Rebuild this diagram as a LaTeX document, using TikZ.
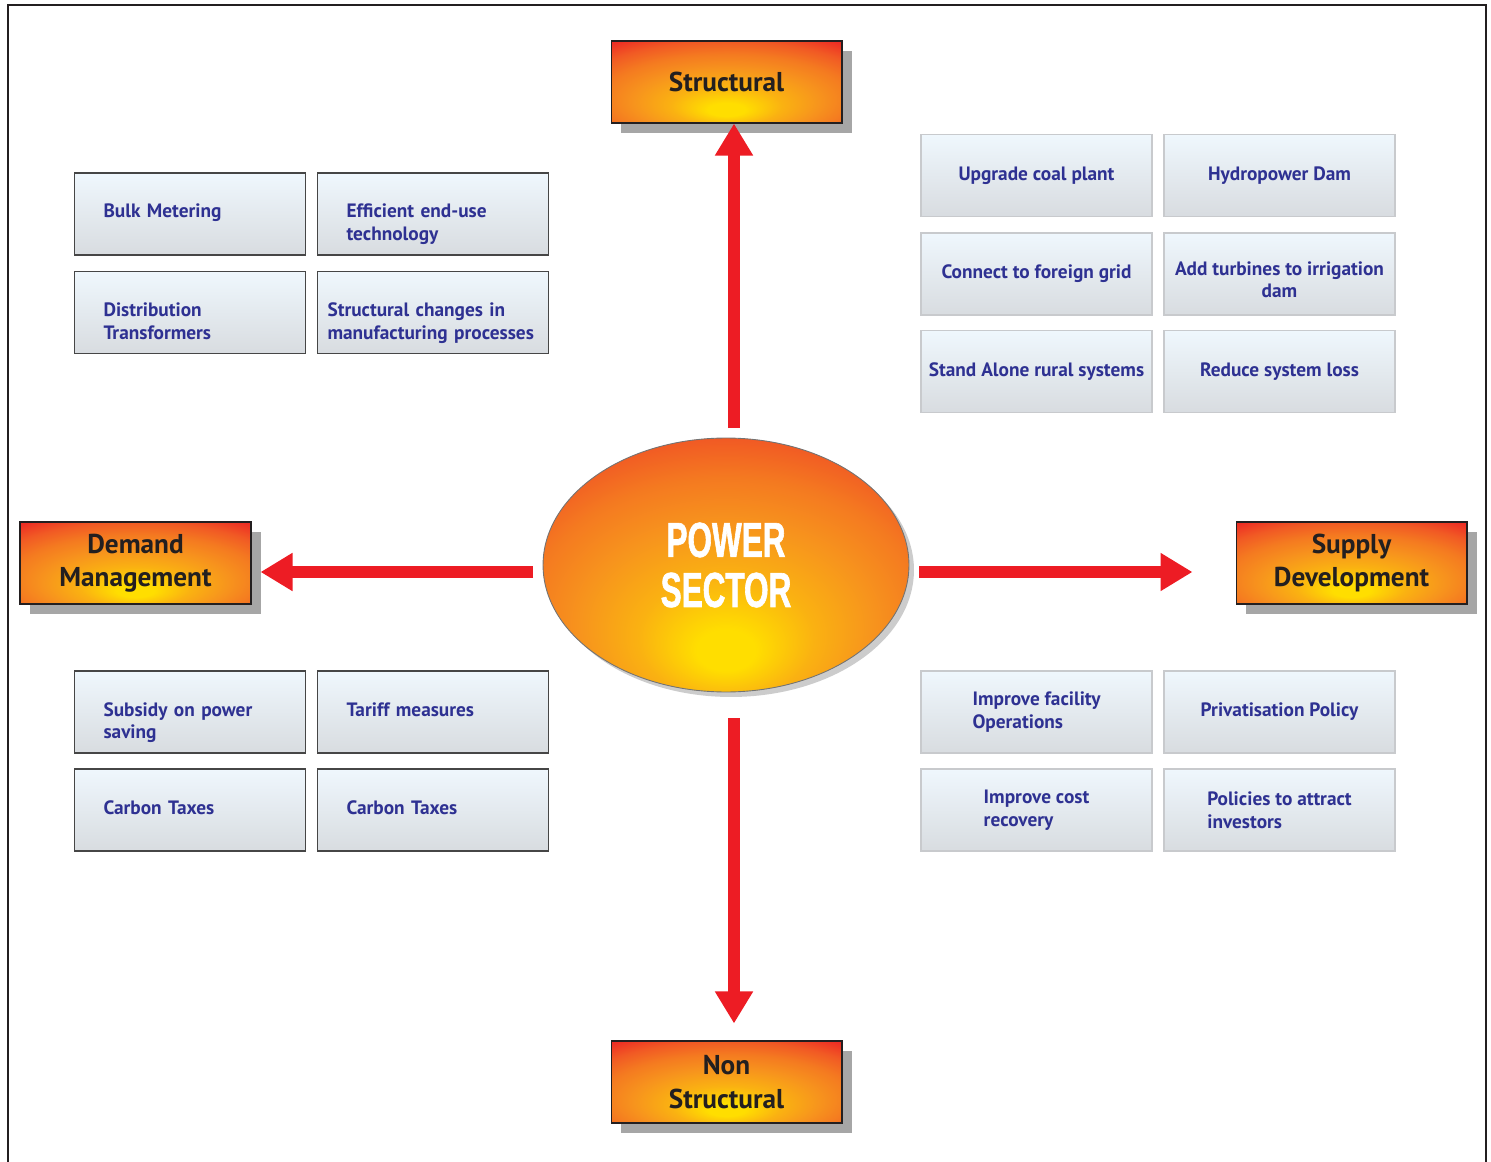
\documentclass[tikz,border=0pt]{standalone}
\usepackage{fontspec}
\setmainfont{PT Sans}
\newfontfamily\hubfont[FakeStretch=0.64,FakeBold=1.2]{Liberation Sans}
\usetikzlibrary{arrows.meta,shapes.geometric,shadows,calc}
\definecolor{ink}{RGB}{35,31,32}
\definecolor{navy}{RGB}{46,49,146}
\definecolor{arrowred}{RGB}{237,28,36}
\definecolor{sunyel}{RGB}{255,222,0}
\definecolor{sunorg}{RGB}{247,148,29}
\definecolor{sunred}{RGB}{241,90,36}
\definecolor{sundeep}{RGB}{237,45,36}
\definecolor{boxtop}{RGB}{239,247,253}
\definecolor{boxbot}{RGB}{216,220,224}
\definecolor{linedark}{RGB}{70,70,70}
\definecolor{linelight}{RGB}{200,202,205}
\pgfdeclareradialshading{sunset}{\pgfpoint{0bp}{-18bp}}{color(0bp)=(sunyel); color(4bp)=(sunyel); color(12bp)=(sunyel!40!sunorg); color(20bp)=(sunorg); color(27bp)=(sunorg!55!sunred); color(33bp)=(sunred); color(39bp)=(sundeep); color(60bp)=(sundeep)}
\tikzset{
  headbox/.style={draw=ink, line width=0.6pt, shading=sunset, minimum width=4.62cm, minimum height=1.64cm, align=center, text=ink,
    font=\fontsize{15.5}{19}\selectfont\bfseries, drop shadow={shadow xshift=0.2cm, shadow yshift=-0.2cm, fill=black, opacity=0.35}},
  hubnode/.style={ellipse, draw=black!55, line width=0.5pt, shading=sunset, minimum width=7.32cm, minimum height=5.08cm, inner sep=0pt,
    align=center, text=white, font=\hubfont\bfseries\fontsize{28}{28.5}\selectfont, drop shadow={shadow xshift=0.1cm, shadow yshift=-0.1cm, opacity=0.4}},
  leftitem/.style={draw=linedark, line width=0.6pt, top color=boxtop, bottom color=boxbot, minimum height=1.64cm, inner xsep=0.58cm,
    text width=3.46cm, text height=0.58cm, text depth=0.42cm, align=left, text=navy, font=\fontsize{11}{13}\selectfont\bfseries},
  rightitem/.style={draw=linelight, line width=1pt, top color=boxtop, bottom color=boxbot, minimum width=4.62cm, minimum height=1.64cm,
    align=left, text=navy, font=\fontsize{11}{13}\selectfont\bfseries},
  bigarrow/.style={draw=arrowred, line width=0.24cm, -{Triangle[length=0.64cm, width=0.72cm]}},
  frame/.style={draw=ink, line width=0.05cm}
}

\begin{document}
\begin{tikzpicture}[x=0.02cm, y=-0.02cm]
\useasboundingbox (0,0) rectangle (1491,1162);
\draw[frame] (8,1162) -- (8,5) -- (1486,5) -- (1486,1162);

\node[hubnode] (hub) at (726,565) {POWER\\SECTOR};
\node[headbox] (str) at (726.5,82) {Structural};
\node[headbox] (dem) at (135.5,563) {Demand\\Management};
\node[headbox] (sup) at (1351.5,563) {Supply\\Development};
\node[headbox] (nstr) at (726.5,1082) {Non\\Structural};

\node[leftitem] (bulk) at (190,214) {Bulk Metering};
\node[leftitem] (effic) at (433,214) {Efficient end-use\\technology};
\node[leftitem] (distr) at (190,312.5) {Distribution\\Transformers};
\node[leftitem, inner xsep=0.2cm, text width=4.22cm] (manuf) at (433,312.5) {Structural changes in\\manufacturing processes};
\node[leftitem] (subsid) at (190,712) {Subsidy on power\\saving};
\node[leftitem] (tariff) at (433,712) {Tariff measures};
\node[leftitem] (carbA) at (190,810) {Carbon Taxes};
\node[leftitem] (carbB) at (433,810) {Carbon Taxes};

\node[rightitem] (coal) at (1036.5,175.5) {Upgrade coal plant};
\node[rightitem] (hydro) at (1279.5,175.5) {Hydropower Dam};
\node[rightitem] (grid) at (1036.5,274) {Connect to foreign grid};
\node[rightitem, align=center, text height=1cm, text depth=0.04cm] (turb) at (1279.5,274) {Add turbines to irrigation\\dam};
\node[rightitem] (rural) at (1036.5,371.5) {Stand Alone rural systems};
\node[rightitem] (loss) at (1279.5,371.5) {Reduce system loss};
\node[rightitem] (facil) at (1036.5,712) {Improve facility\\Operations};
\node[rightitem] (priv) at (1279.5,712) {Privatisation Policy};
\node[rightitem] (cost) at (1036.5,810) {Improve cost\\recovery};
\node[rightitem] (invest) at (1279.5,810) {Policies to attract\\investors};

\coordinate (upA) at (734,428);
\coordinate (dnA) at (734,718);
\coordinate (lfA) at (533,572);
\coordinate (rtA) at (919,572);
\draw[bigarrow] (upA) -- (upA |- str.south);
\draw[bigarrow] (dnA) -- ($(dnA |- nstr.north)+(0,-17)$);
\draw[bigarrow] (lfA) -- ($(lfA -| dem.east)+(9,0)$);
\draw[bigarrow] (rtA) -- ($(rtA -| sup.west)+(-43,0)$);
\end{tikzpicture}
\end{document}
